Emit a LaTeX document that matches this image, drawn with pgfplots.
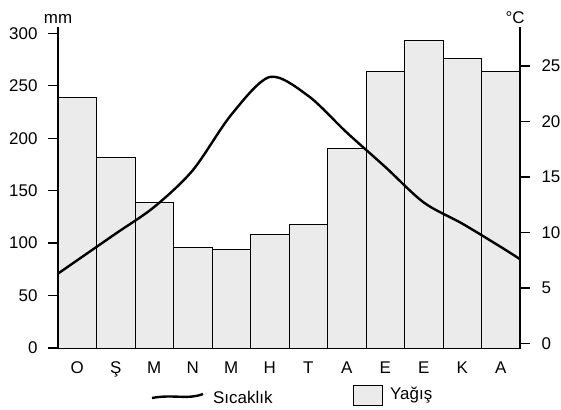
\documentclass[border=0pt]{standalone}
\usepackage{fontspec}
\setmainfont{Liberation Sans}
\usepackage{pgfplots}
\pgfplotsset{compat=1.18}
\newcommand\lbl{\fontsize{17}{20}\selectfont}

\pgfplotsset{
  base/.style={
    width=462bp, height=321bp, scale only axis,
    xmin=0, xmax=12, clip=false,
    /pgf/number format/assume math mode=true,
    tick label style={font=\lbl},
    tick align=outside,
    major tick length=10bp,
    every tick/.style={line width=1.3bp, black},
    axis line style={line width=1.6bp},
  }
}

\begin{document}
\begin{tikzpicture}
% precipitation (mm), left axis
\begin{axis}[base,
  ymin=0, ymax=306,
  axis x line*=bottom, axis y line*=left,
  ytick={0,50,...,300},
  yticklabel style={xshift=-7bp},
  xtick={0.5,1.5,...,11.5},
  xticklabels={O,Ş,M,N,M,H,T,A,E,E,K,A},
  x tick style={draw=none},
]
\addplot[ybar, bar width=1, fill=black!8, draw=black, line width=0.9bp]
  coordinates {(0.5,239) (1.5,182) (2.5,139) (3.5,96) (4.5,94) (5.5,108)
               (6.5,118) (7.5,190) (8.5,264) (9.5,293) (10.5,276) (11.5,264)};
\node[anchor=south, font=\lbl] at (rel axis cs:0,1) {mm};
\end{axis}

% temperature (C), right axis
\begin{axis}[base,
  ymin=-0.4, ymax=28.5,
  axis y line*=right, hide x axis,
  ytick={0,5,...,25},
  yticklabel style={xshift=8bp},
]
\addplot[smooth, line width=2.4bp, black]
  coordinates {(0,6.3) (0.5,7.5) (1.5,9.9) (2.5,12.3) (3.5,15.6) (4.5,20.6)
               (5.5,24.0) (6.5,22.3) (7.5,19.0) (8.5,15.9) (9.5,12.7)
               (10.5,10.8) (11.5,8.7) (12,7.6)};
\node[anchor=south, font=\lbl, xshift=-5bp] at (rel axis cs:1,1) {°C};
\end{axis}

% legend
\draw[line width=2.4bp] (94bp,-50bp) .. controls (115bp,-46bp) and (130bp,-52bp) .. (145bp,-46bp);
\node[anchor=west, font=\lbl, inner sep=0pt] at (155bp,-49bp) {Sıcaklık};
\draw[fill=black!8, line width=0.9bp] (295bp,-37bp) rectangle (324bp,-57bp);
\node[anchor=west, font=\lbl, inner sep=0pt] at (332bp,-47bp) {Yağış};

\pgfresetboundingbox
\path[use as bounding box] (-58bp,-62bp) rectangle (503bp,348bp);
\end{tikzpicture}
\end{document}
